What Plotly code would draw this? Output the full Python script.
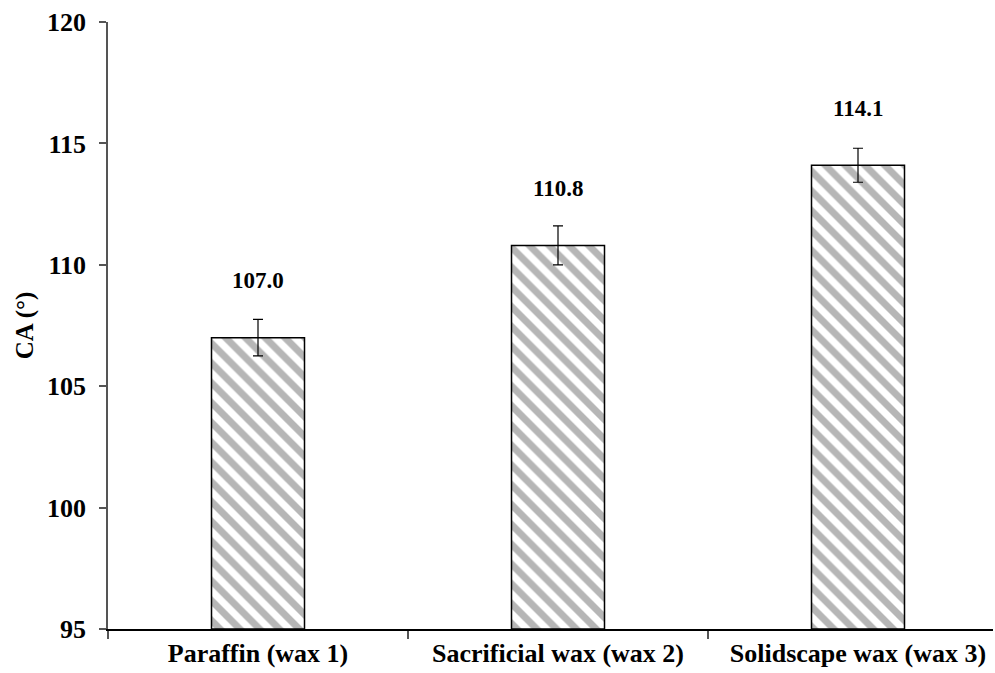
import plotly.graph_objects as go

categories = ["Paraffin (wax 1)", "Sacrificial wax (wax 2)", "Solidscape wax (wax 3)"]
values = [107.0, 110.8, 114.1]
errors = [0.75, 0.8, 0.7]
value_labels = ["107.0", "110.8", "114.1"]
y_ticks = [95, 100, 105, 110, 115, 120]
y_base = 95

font_family = "Liberation Serif, Times New Roman, serif"

fig = go.Figure()
fig.add_trace(go.Bar(
    x=categories,
    y=[v - y_base for v in values],
    base=y_base,
    width=0.31,
    marker=dict(
        color="white",
        line=dict(color="black", width=1.5),
        pattern=dict(shape="\\", fgcolor="#6e6e6e", bgcolor="white", size=14, solidity=0.5),
    ),
    error_y=dict(type="data", array=errors, color="black", thickness=1.2, width=5),
))

for c, v, t in zip(categories, values, value_labels):
    fig.add_annotation(x=c, y=v, text="<b>" + t + "</b>", showarrow=False, yshift=57,
                       font=dict(family=font_family, size=23, color="black"))

fig.update_layout(
    width=995, height=673,
    margin=dict(l=108, r=2, t=22, b=44),
    paper_bgcolor="white", plot_bgcolor="white",
    showlegend=False,
    font=dict(family=font_family, color="black"),
)
fig.update_xaxes(
    type="category",
    range=[-0.5, 2.45],
    showline=True, linecolor="black", linewidth=2,
    ticks="outside", tickson="boundaries", ticklen=8, tickcolor="#555", tickwidth=1.5,
    tickfont=dict(family=font_family, size=26, color="black", weight="bold"),
    showgrid=False,
)
fig.update_yaxes(
    range=[95, 120],
    tickvals=y_ticks,
    showline=True, linecolor="#555", linewidth=1.5,
    ticks="outside", ticklen=7, tickcolor="#555", tickwidth=1.5,
    ticklabelstandoff=8,
    tickfont=dict(family=font_family, size=26, color="black", weight="bold"),
    showgrid=False, zeroline=False,
    title=dict(text="CA (°)", font=dict(family=font_family, size=25, color="black", weight="bold"), standoff=6),
)

fig.write_html("out.html")
